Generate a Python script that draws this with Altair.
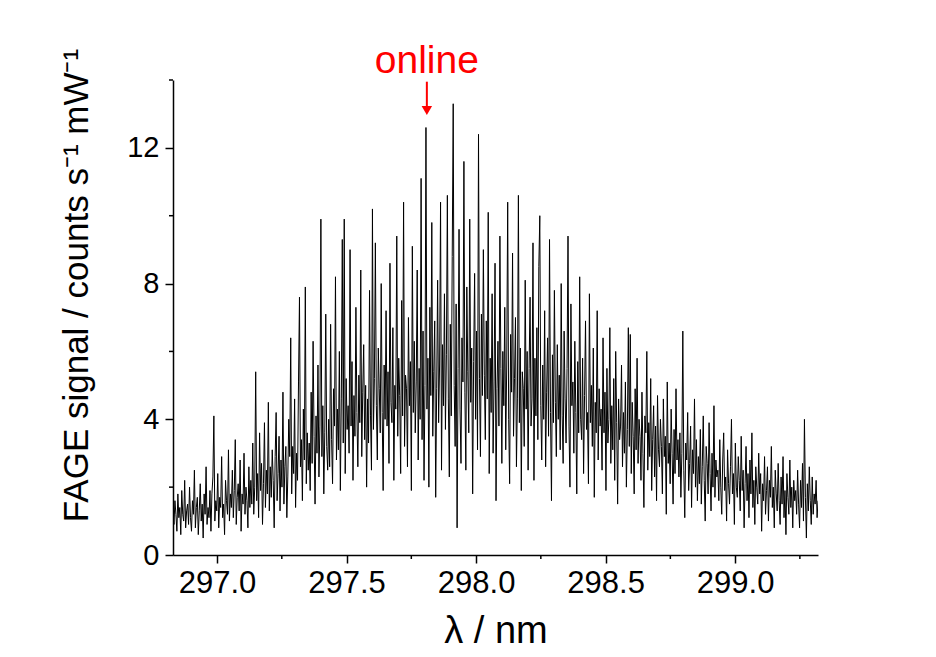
import altair as alt
import pandas as pd

# Sampling grid of the spectrum (nm)
x_start = 296.83
x_step = 0.003756

# FAGE signal values (counts s^-1 mW^-1), left to right
signal = [
    1.3, 0.9, 1.6, 1.2, 0.7, 1.8, 1.1, 1.4, 0.6, 1.9, 1.2, 1.0, 2.2, 0.8, 1.3, 1.5, 0.9, 2.0, 1.1, 0.7,
    1.6, 1.2, 2.5, 0.8, 1.4, 1.7, 0.6, 1.3, 2.1, 1.0, 1.5, 0.5, 1.8, 1.2, 2.6, 0.9, 1.4, 1.1, 1.9, 0.7,
    1.8, 2.3, 4.1, 1.0, 1.6, 1.3, 2.4, 0.8, 1.7, 1.4, 2.9, 1.1, 1.5, 0.6, 2.2, 1.6, 1.2, 3.1, 1.0, 1.8,
    1.4, 2.5, 1.1, 1.9, 3.4, 0.9, 1.7, 2.1, 1.3, 2.8, 0.7, 1.8, 1.5, 3.0, 1.2, 2.0, 1.6, 0.8, 2.6, 1.4,
    2.2, 1.5, 3.3, 1.2, 2.0, 5.4, 1.6, 2.4, 1.1, 3.6, 1.9, 2.7, 0.9, 2.1, 3.9, 1.4, 2.5, 1.8, 4.5, 1.3,
    2.6, 1.7, 3.1, 2.2, 0.8, 2.9, 4.2, 1.6, 2.4, 3.5, 1.3, 2.8, 2.0, 4.8, 1.5, 2.6, 3.2, 1.1, 2.3, 4.0,
    2.9, 6.4, 1.8, 3.2, 2.4, 4.6, 1.4, 3.0, 2.2, 5.1, 7.6, 2.6, 3.4, 1.6, 4.3, 2.8, 7.9, 2.1, 3.6, 2.5,
    3.3, 1.9, 4.8, 2.7, 6.3, 3.5, 1.5, 4.1, 3.0, 5.6, 2.3, 3.8, 9.9, 2.9, 4.4, 1.8, 3.6, 7.1, 3.2, 2.5,
    4.0, 2.6, 6.8, 3.4, 2.1, 4.9, 3.8, 8.2, 2.8, 4.3, 3.1, 6.0, 1.9, 4.6, 9.3, 3.3, 9.9, 2.4, 5.2, 3.7,
    4.4, 3.0, 9.0, 3.8, 5.7, 2.2, 4.7, 3.5, 7.3, 4.2, 2.6, 5.3, 3.9, 8.4, 2.9, 4.8, 6.2, 3.4, 5.0, 2.0,
    4.6, 3.3, 7.8, 4.1, 2.5, 10.2, 3.7, 5.2, 9.2, 4.4, 2.8, 6.1, 4.9, 3.6, 8.0, 4.2, 1.9, 5.6, 4.0, 7.2,
    3.8, 5.4, 2.7, 8.6, 4.5, 3.9, 6.7, 2.2, 5.0, 4.3, 9.4, 3.5, 5.8, 4.7, 2.4, 7.5, 4.1, 10.4, 3.2, 5.3,
    4.9, 2.6, 7.0, 4.4, 5.7, 1.9, 9.1, 4.2, 6.3, 3.6, 5.1, 8.4, 2.8, 5.5, 4.0, 11.1, 3.4, 6.6, 2.2, 5.0,
    12.6, 4.3, 5.8, 2.0, 7.3, 4.7, 9.8, 3.5, 5.4, 6.9, 1.7, 4.9, 8.1, 3.9, 5.6, 10.4, 2.5, 6.2, 4.4, 7.7,
    3.7, 5.9, 10.6, 4.6, 2.3, 6.8, 4.1, 8.8, 13.3, 5.0, 3.2, 7.4, 0.8, 5.5, 9.6, 4.3, 2.7, 6.4, 5.1, 11.6,
    4.8, 2.5, 7.9, 5.4, 3.6, 9.9, 4.5, 6.1, 1.8, 5.7, 8.3, 4.0, 6.6, 3.1, 12.4, 5.2, 2.9, 7.1, 4.7, 9.0,
    5.3, 3.4, 6.9, 4.6, 10.1, 2.4, 5.8, 4.2, 7.7, 3.0, 5.1, 8.6, 1.6, 4.9, 6.3, 3.8, 9.4, 5.5, 2.7, 6.0,
    4.4, 7.3, 3.1, 5.6, 10.4, 4.0, 2.1, 6.5, 4.8, 8.9, 3.5, 5.2, 7.0, 2.6, 4.6, 10.6, 3.9, 6.1, 1.9, 5.4,
    4.9, 3.2, 8.1, 4.3, 6.0, 2.5, 5.5, 7.6, 3.8, 4.6, 9.2, 2.2, 5.8, 4.1, 6.7, 3.4, 8.5, 10.0, 4.4, 2.8,
    5.6, 4.0, 7.2, 2.6, 4.8, 6.4, 3.5, 9.3, 4.2, 1.6, 5.9, 3.9, 7.8, 4.5, 2.9, 6.2, 4.0, 5.3, 3.1, 8.0,
    4.1, 2.7, 6.6, 4.6, 3.3, 5.5, 9.4, 3.8, 2.0, 7.4, 4.4, 5.1, 3.0, 6.3, 4.2, 1.8, 5.7, 3.6, 8.2, 4.0,
    3.4, 5.8, 2.4, 4.7, 6.9, 3.7, 4.2, 2.1, 7.7, 3.9, 5.0, 3.2, 6.1, 1.7, 4.5, 3.6, 7.2, 2.8, 4.9, 3.8,
    4.3, 2.5, 6.4, 3.6, 4.8, 1.9, 5.5, 3.3, 4.0, 6.7, 2.7, 4.4, 3.1, 5.2, 2.2, 6.0, 3.9, 1.5, 4.6, 3.4,
    3.8, 5.6, 2.6, 4.2, 3.0, 5.1, 2.0, 3.7, 6.7, 3.2, 6.5, 2.4, 4.5, 3.5, 1.8, 4.9, 3.1, 5.8, 2.7, 4.0,
    3.5, 2.2, 4.8, 3.0, 1.4, 4.1, 3.6, 6.0, 2.5, 3.9, 2.9, 5.2, 1.9, 3.4, 4.4, 2.3, 3.8, 1.6, 4.7, 3.1,
    2.6, 4.0, 3.2, 1.8, 4.6, 2.9, 3.5, 1.2, 5.1, 2.7, 3.3, 2.1, 4.3, 3.0, 1.5, 3.7, 2.4, 4.9, 2.8, 3.4,
    2.3, 3.6, 1.7, 3.0, 6.6, 2.5, 1.1, 3.3, 2.8, 4.2, 1.9, 2.7, 3.8, 1.4, 3.1, 2.4, 4.6, 2.0, 3.4, 1.6,
    2.9, 2.1, 3.7, 1.5, 2.6, 4.1, 2.2, 1.0, 3.2, 2.7, 1.8, 3.9, 2.4, 1.3, 3.0, 2.0, 4.4, 1.7, 2.8, 2.3,
    2.5, 1.6, 3.4, 2.0, 1.2, 2.8, 3.6, 1.9, 2.3, 1.0, 3.1, 2.1, 1.5, 2.6, 4.0, 1.8, 2.4, 0.9, 3.3, 2.0,
    1.7, 2.9, 2.2, 1.3, 3.5, 1.9, 2.5, 0.8, 2.1, 3.2, 1.6, 2.4, 1.1, 2.8, 1.8, 3.6, 1.4, 2.2, 0.9, 2.6,
    2.0, 1.5, 3.0, 1.8, 2.4, 0.7, 2.1, 1.6, 2.9, 1.2, 1.9, 2.6, 1.0, 2.2, 1.7, 3.2, 1.4, 2.0, 0.8, 2.5,
    1.8, 1.3, 2.7, 1.6, 0.9, 2.3, 1.5, 2.9, 1.1, 1.9, 0.6, 2.4, 1.7, 1.2, 2.8, 1.4, 2.0, 0.8, 2.2, 1.6,
    1.9, 1.2, 2.5, 1.5, 0.8, 2.2, 1.4, 2.7, 1.0, 4.0, 1.7, 0.5, 2.1, 1.3, 2.6, 1.6, 0.9, 2.3, 1.2, 1.8,
    1.5, 2.2, 1.1, 1.6,
]

x_domain = [296.83, 299.32]
y_domain = [0, 14]
x_major = [297.0, 297.5, 298.0, 298.5, 299.0]
x_minor = [297.25, 297.75, 298.25, 298.75, 299.25]
y_major = [0, 4, 8, 12]
y_minor = [2, 6, 10, 14]

annot_label = ["online"]
annot_x = [297.81]
annot_text_y = [14.2]
annot_arrow_top = [13.95]
annot_arrow_tip = [13.1]

df = pd.DataFrame({
    "wl": [x_start + i * x_step for i in range(len(signal))],
    "sig": signal,
})
ann = pd.DataFrame({
    "label": annot_label, "x": annot_x, "ty": annot_text_y,
    "y1": annot_arrow_top, "y2": annot_arrow_tip,
})

FONT = "Liberation Sans"
xs = alt.Scale(domain=x_domain, nice=False, zero=False)
ys = alt.Scale(domain=y_domain, nice=False)

line = alt.Chart(df).mark_line(color="black", strokeWidth=1.0, clip=True).encode(
    x=alt.X("wl:Q", scale=xs, title="λ / nm",
            axis=alt.Axis(values=x_major, format=".1f", tickSize=8, tickWidth=1.5,
                          domainWidth=1.5, domainColor="black", tickColor="black",
                          labelFontSize=31, labelColor="black", labelFont=FONT,
                          labelPadding=5, titleFont=FONT, titleFontSize=38,
                          titleFontWeight="normal", titleColor="black", titlePadding=14,
                          grid=False)),
    y=alt.Y("sig:Q", scale=ys, title="FAGE signal / counts s⁻¹ mW⁻¹",
            axis=alt.Axis(values=y_major, tickSize=8, tickWidth=1.5,
                          domainWidth=1.5, domainColor="black", tickColor="black",
                          labelFontSize=29, labelColor="black", labelFont=FONT,
                          labelPadding=6, titleFont=FONT, titleFontSize=35,
                          titleFontWeight="normal", titleColor="black", titlePadding=32,
                          titleY=205, grid=False)),
)

minor_x = alt.Chart(pd.DataFrame({"v": x_minor})).mark_rule(color="black", strokeWidth=1.5).encode(
    x=alt.X("v:Q", scale=xs),
    y=alt.value(475), y2=alt.value(479),
)
minor_y = alt.Chart(pd.DataFrame({"v": y_minor})).mark_rule(color="black", strokeWidth=1.5).encode(
    y=alt.Y("v:Q", scale=ys),
    x=alt.value(-4), x2=alt.value(0),
)

arrow = alt.Chart(ann).mark_rule(color="#ff0000", strokeWidth=2, clip=False).encode(
    x=alt.X("x:Q", scale=xs), y=alt.Y("y1:Q", scale=ys), y2="y2:Q",
)
head = alt.Chart(ann).mark_point(shape="triangle-down", color="#ff0000", filled=True,
                                 size=110, opacity=1, clip=False).encode(
    x=alt.X("x:Q", scale=xs), y=alt.Y("y2:Q", scale=ys),
)
label = alt.Chart(ann).mark_text(color="#ff0000", font=FONT, fontSize=39, baseline="alphabetic",
                                 align="center", clip=False).encode(
    x=alt.X("x:Q", scale=xs), y=alt.Y("ty:Q", scale=ys), text="label:N",
)

chart = alt.layer(line, minor_x, minor_y, arrow, head, label).properties(
    width=645, height=475,
    autosize=alt.AutoSizeParams(type="none"),
    padding={"left": 165, "top": 72, "right": 110, "bottom": 94},
    background="white",
).configure_view(stroke=None)

chart.save("out.html", embed_options={"renderer": "svg", "actions": False})
